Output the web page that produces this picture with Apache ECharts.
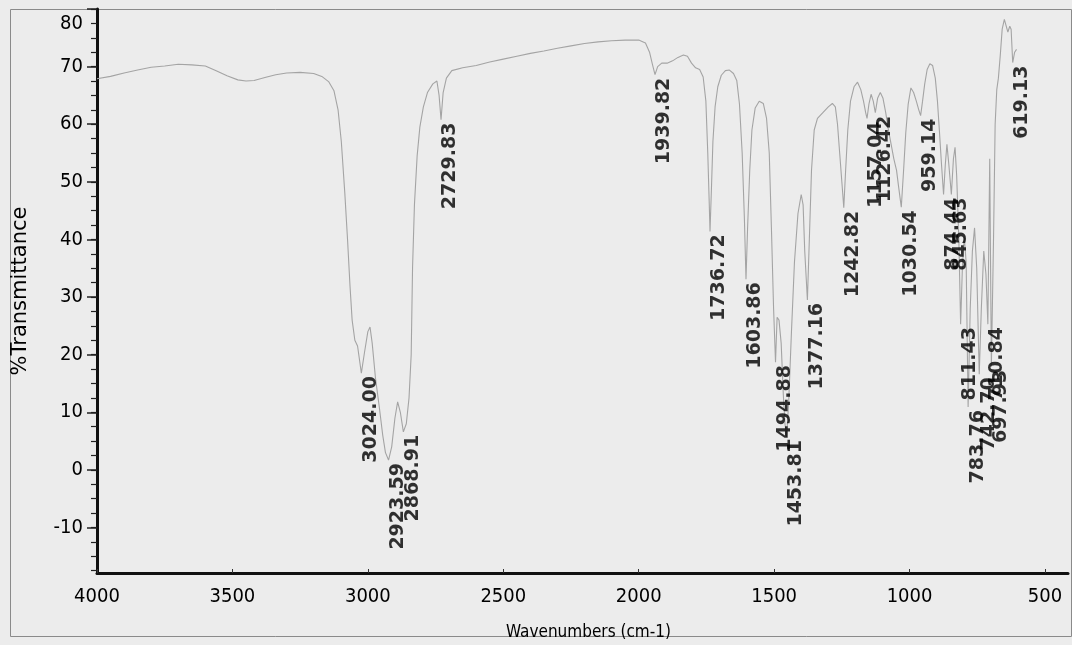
<!DOCTYPE html>
<html>
<head>
<meta charset="utf-8">
<title>IR spectrum</title>
<script src="https://cdn.jsdelivr.net/npm/echarts@6/dist/echarts.min.js"></script>
<style>
  html, body { margin: 0; padding: 0; background: #ececec; }
  #chart { width: 1072px; height: 645px; }
</style>
</head>
<body>
<div id="chart"></div>
<script>
// FT-IR spectrum: wavenumber (cm-1) vs % transmittance
const spectrumWn = [
  4000, 3950, 3900, 3850, 3800, 3750, 3700, 3650, 3600, 3560, 3520, 3480, 3450, 3420, 3380, 3340, 3300, 3250, 3200, 3170,
  3145, 3125, 3110, 3098, 3085, 3075, 3066, 3058, 3048, 3038, 3024.00, 3012, 3000, 2992, 2984, 2972, 2958, 2945, 2935, 2923.59,
  2912, 2900, 2890, 2880, 2868.91, 2858, 2848, 2840, 2835, 2828, 2818, 2808, 2795, 2780, 2760, 2745, 2737, 2729.83, 2722, 2710,
  2690, 2650, 2600, 2550, 2500, 2450, 2400, 2350, 2300, 2250, 2200, 2150, 2100, 2050, 2000, 1975, 1960, 1950, 1939.82, 1930,
  1915, 1895, 1875, 1855, 1835, 1820, 1805, 1790, 1775, 1762, 1752, 1745, 1740, 1736.72, 1732, 1726, 1718, 1708, 1695, 1680,
  1665, 1650, 1638, 1628, 1618, 1610, 1603.86, 1598, 1590, 1582, 1570, 1555, 1540, 1528, 1518, 1510, 1502, 1494.88, 1489, 1482,
  1474, 1466, 1460, 1453.81, 1446, 1436, 1425, 1412, 1400, 1393, 1387, 1377.16, 1370, 1362, 1352, 1340, 1320, 1300, 1285, 1274,
  1266, 1258, 1250, 1242.82, 1236, 1228, 1218, 1205, 1192, 1180, 1170, 1162, 1157.04, 1150, 1142, 1134, 1126.42, 1118, 1108, 1098,
  1088, 1078, 1068, 1058, 1048, 1040, 1030.54, 1022, 1014, 1005, 995, 985, 975, 966, 959.14, 952, 944, 935, 925, 915,
  905, 897, 890, 882, 874.44, 868, 862, 855, 845.63, 838, 832, 826, 818, 811.43, 805, 798, 791, 783.76, 776, 768,
  760, 752, 742.70, 735, 726, 718, 710.84, 704, 697.93, 690, 684, 678, 672, 665, 658, 650, 643, 637, 630, 625,
  619.13, 612, 605
];
const spectrumT = [
  67.9, 68.3, 68.9, 69.4, 69.9, 70.1, 70.4, 70.3, 70.1, 69.3, 68.4, 67.7, 67.5, 67.6, 68.1, 68.6, 68.9, 69.0, 68.8, 68.3,
  67.4, 65.8, 62.5, 57.0, 48.0, 40.0, 32.0, 26.0, 22.5, 21.5, 16.8, 20.5, 24.0, 24.8, 22.0, 16.0, 11.0, 6.0, 3.0, 1.7,
  4.0, 9.0, 11.8, 10.0, 6.6, 8.0, 12.5, 20.0, 35.0, 46.0, 54.5, 59.5, 63.0, 65.5, 67.0, 67.5, 65.0, 60.8, 65.5, 68.0,
  69.3, 69.8, 70.2, 70.8, 71.3, 71.8, 72.3, 72.7, 73.2, 73.6, 74.0, 74.3, 74.5, 74.6, 74.6, 74.1, 72.5, 70.5, 68.6, 70.0,
  70.6, 70.6, 71.0, 71.6, 72.0, 71.8, 70.6, 69.8, 69.5, 68.2, 64.0, 55.0, 47.0, 41.4, 48.0, 57.0, 63.0, 66.5, 68.5, 69.3,
  69.4, 68.8, 67.6, 63.5, 55.0, 44.0, 33.1, 42.0, 52.0, 59.0, 62.8, 64.0, 63.6, 61.0, 55.0, 42.0, 28.0, 18.7, 26.5, 26.0,
  22.0, 13.0, 8.0, 5.7, 12.0, 24.0, 36.0, 44.5, 47.8, 46.0, 38.0, 29.5, 40.0, 52.0, 59.0, 61.0, 62.0, 63.0, 63.6, 63.0,
  60.0, 55.0, 50.0, 45.5, 52.0, 59.0, 64.0, 66.5, 67.3, 66.0, 64.0, 62.0, 61.0, 63.5, 65.2, 64.0, 62.0, 64.5, 65.5, 64.5,
  62.0, 59.0, 56.5, 54.0, 52.0, 49.0, 45.6, 52.0, 58.5, 63.5, 66.3, 65.5, 64.0, 62.5, 61.5, 64.0, 67.0, 69.5, 70.5, 70.2,
  68.0, 64.0, 59.0, 53.0, 47.8, 53.0, 56.5, 53.0, 47.8, 54.0, 56.0, 51.0, 40.0, 25.3, 35.0, 40.5, 36.0, 10.9, 28.0, 38.0,
  42.0, 35.0, 16.6, 28.0, 38.0, 34.0, 25.3, 54.0, 17.9, 40.0, 60.0, 66.0, 68.0, 72.0, 76.5, 78.2, 78.0, 76.0, 77.0, 76.5,
  70.7, 72.5, 73.0
];

// Labelled absorption bands (peak wavenumber, %T at the minimum)
const peakWn = [3024.00, 2923.59, 2868.91, 2729.83, 1939.82, 1736.72, 1603.86, 1494.88, 1453.81, 1377.16, 1242.82, 1157.04,
  1126.42, 1030.54, 959.14, 874.44, 845.63, 811.43, 783.76, 742.70, 710.84, 697.93, 619.13];
const peakT = [16.8, 1.7, 6.6, 60.8, 68.6, 41.4, 33.1, 18.7, 5.7, 29.5, 45.5, 61.0,
  62.0, 45.6, 61.5, 47.8, 47.8, 25.3, 10.9, 16.6, 25.3, 17.9, 70.7];

// Axis tick positions
const xTickValues = [500, 1000, 1500, 2000, 2500, 3000, 3500, 4000];
const yTickValues = [-10, 0, 10, 20, 30, 40, 50, 60, 70, 80];
const yMinorTickValues = [];
for (let v = -17.5; v <= 80; v += 2.5) yMinorTickValues.push(v);

const spectrum = spectrumWn.map((w, i) => [w, spectrumT[i]]);
const peaks = peakWn.map((w, i) => [w, peakT[i]]);

const narrow = "'Liberation Sans Narrow', 'DejaVu Sans Condensed', 'Liberation Sans', sans-serif";
const Y_MIN = -17.9, Y_MAX = 80;

const chart = echarts.init(document.getElementById('chart'), null, { renderer: 'canvas' });
chart.setOption({
  animation: false,
  backgroundColor: '#ececec',
  grid: { left: 97, right: 4, top: 9, bottom: 72, containLabel: false, outerBoundsMode: 'none' },
  xAxis: {
    type: 'value',
    inverse: true,
    min: 415,
    max: 4000,
    name: 'Wavenumbers (cm-1)',
    nameLocation: 'middle',
    nameGap: 51,
    nameTextStyle: { fontFamily: narrow, fontSize: 17, color: '#000', padding: [0, 0, 0, 12] },
    axisLine: { show: true, onZero: false, lineStyle: { color: '#111', width: 3 } },
    axisTick: { show: true, inside: true, length: 4, customValues: xTickValues, lineStyle: { color: '#333', width: 1 } },
    axisLabel: {
      customValues: xTickValues,
      margin: 14,
      fontFamily: narrow,
      fontSize: 20,
      color: '#000',
      formatter: v => String(v)
    },
    splitLine: { show: false }
  },
  yAxis: [
    {
      type: 'value',
      min: Y_MIN,
      max: Y_MAX,
      position: 'left',
      name: '%Transmittance',
      nameLocation: 'middle',
      nameGap: 66,
      nameRotate: 90,
      nameTextStyle: { fontFamily: 'DejaVu Sans', fontSize: 21, color: '#000' },
      axisLine: { show: true, onZero: false, lineStyle: { color: '#111', width: 3 } },
      axisTick: { show: true, length: 10, customValues: yTickValues, lineStyle: { color: '#222', width: 1.5 } },
      axisLabel: {
        customValues: yTickValues,
        margin: 14,
        fontFamily: narrow,
        fontSize: 20,
        color: '#000',
        formatter: v => (v === 80 ? '{top|80}' : String(v)),
        rich: { top: { fontFamily: narrow, fontSize: 20, color: '#000', padding: [30, 0, 0, 0] } }
      },
      splitLine: { show: false }
    },
    {
      type: 'value',
      min: Y_MIN,
      max: Y_MAX,
      position: 'left',
      offset: 0,
      axisLine: { show: false },
      axisTick: { show: true, length: 6, customValues: yMinorTickValues, lineStyle: { color: '#222', width: 1.2 } },
      axisLabel: { show: false },
      splitLine: { show: false }
    }
  ],
  series: [
    {
      type: 'line',
      data: spectrum,
      showSymbol: false,
      smooth: false,
      lineStyle: { color: '#a4a4a4', width: 1.1 },
      z: 2
    },
    {
      type: 'scatter',
      data: peaks,
      symbolSize: 0,
      silent: true,
      z: 3,
      label: {
        show: true,
        position: [0, 3],
        rotate: 90,
        align: 'right',
        verticalAlign: 'top',
        fontFamily: 'DejaVu Sans',
        fontWeight: 'bold',
        fontSize: 19,
        color: '#000',
        formatter: p => p.value[0].toFixed(2)
      }
    }
  ],
  graphic: [
    {
      type: 'rect',
      silent: true,
      shape: { x: 10.5, y: 9.5, width: 1061, height: 627 },
      style: { fill: 'none', stroke: '#8a8a8a', lineWidth: 1 },
      z: -1
    }
  ]
});
</script>
</body>
</html>
